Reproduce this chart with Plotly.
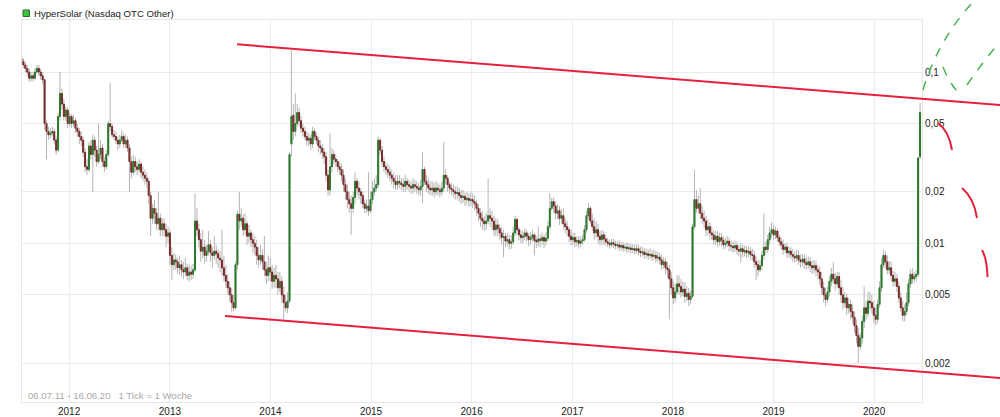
import plotly.graph_objects as go
import pandas as pd

# ---------------- data (weekly candles, HyperSolar, USD) ----------------
START = "2011-07-12"

CLOSE = [
    .115, .11, .105, .10, .092, .095, .092, .10, .105, .10, .095,
    .09, .05, .045,
    .043, .044, .045,
    .04, .035,
    .055, .075,
    .065, .055, .06, .05,
    .055, .05, .052, .047, .045, .042,
    .04, .034, .028, .027,
    .037, .033, .04, .035, .03, .033, .036, .03, .028, .033,
    .05, .048, .043,
    .042, .04, .038, .04, .042, .038, .04, .036,
    .03, .026, .03,
    .028, .027, .029, .026, .025, .024, .023,
    .019, .014, .016,
    .015, .013, .014, .012, .013, .012, .011, .0115,
    .0085, .0075, .008, .0078, .0072,
    .0075, .007, .0068, .0072, .0065, .0068, .0066, .007,
    .0135, .012,
    .0105, .009, .0095, .0085, .009, .0098, .0088, .0085, .009, .0087, .0082, .008,
    .0072, .0065, .006, .0055, .005, .0045, .0042,
    .0075, .0148,
    .0135, .014, .012, .013, .011, .0115, .0105,
    .01, .0095, .0085, .008, .0085,
    .0078, .007, .0065, .0072, .0068, .006, .0065,
    .0062, .0055, .006, .005, .0045, .0042, .0046,
    .033,
    .055,
    .045,
    .05, .058, .052, .047,
    .045, .042, .04, .041, .038, .045, .042, .04, .037, .036, .034, .032,
    .025, .0205,
    .028, .033, .031, .03, .028, .027,
    .025, .022, .02, .018, .017, .016, .0185,
    .023, .021, .02, .019,
    .017, .016, .0165, .0155,
    .018, .02, .021, .022,
    .04,
    .035, .03, .028, .027, .026, .025,
    .024, .023, .022, .023, .0225, .022, .0215, .023, .022, .0215, .021, .022, .0215, .021, .0205, .0215,
    .027, .023,
    .022, .021, .0205, .021, .02, .021, .0205, .02,
    .021, .025, .024, .022,
    .021, .0205, .02, .0195, .0198, .019, .0185, .0188, .018, .0183, .0178, .018,
    .0175, .017, .016, .015, .014, .0135, .013, .0135,
    .0145,
    .014, .0135, .012, .0128, .0122,
    .0115, .0108, .011, .0103, .0105, .01, .0102,
    .0115, .0138, .012,
    .0112, .0108, .011, .0115, .011, .0105, .0108, .0112, .0104, .0102, .0106, .0104, .0108, .0103, .0107,
    .0125, .016, .0175,
    .0165, .015, .0155, .014, .0145, .013, .0125, .012,
    .011, .0105, .0108, .0102, .0104, .01, .0103, .0105,
    .012, .0145, .016, .0135,
    .0125, .0115, .012, .011, .0105, .0112, .0106,
    .0102, .01, .0098, .0101, .0099, .0097, .0098, .0095, .0097, .0094, .0095, .0093, .0094, .0092, .0093,
    .0091, .0093, .009, .0088, .0089, .0086, .0087, .0085, .0086, .0084, .0085, .0082, .0083,
    .008, .0075, .0078, .0072, .007,
    .0062, .0055, .0048, .0052, .0058,
    .0056, .0052, .0054, .0049, .0051, .0047, .0049,
    .0125,
    .018, .016,
    .017, .015, .014, .0135, .012, .0125, .0115,
    .0112, .0105, .011, .0102, .0108, .0104, .0098, .01, .0103, .0097,
    .0096, .0094, .0097, .0092, .009, .0093, .0089, .0091, .0088, .009, .0086,
    .0085, .0078, .0075, .007, .0074,
    .0085, .0095, .0092,
    .0105, .0115, .012, .0112, .0118, .0108, .0102,
    .0098, .0092, .0095, .0088, .009,
    .0086, .0084, .0082, .0085, .008, .0078, .0081, .0077, .0075, .0078, .0074, .0072, .0074, .007, .0068,
    .0062, .0055, .005, .0047, .0052,
    .006, .0066, .0062, .0058, .0064,
    .0055, .005, .0045, .0048, .0042, .0044, .004,
    .0037, .0033, .0029, .0025, .0028,
    .0035, .0042, .0039, .0046,
    .0045, .0042, .0038, .0036, .0044,
    .0055, .0075, .0085,
    .0078, .007, .0072, .0065, .006, .0062, .0056,
    .0048, .0042, .0038, .004, .0045,
    .0058, .0066, .0062, .0064, .0066,
    .0315,
    .058,
]

OPEN = [
    .12, .115, .11, .105, .10, .092, .095, .092, .10, .105, .10,
    .095, .09, .05,
    .045, .043, .044,
    .045, .04,
    .035, .055,
    .075, .065, .055, .06,
    .05, .055, .05, .052, .047, .045,
    .042, .04, .034, .028,
    .027, .037, .033, .04, .035, .03, .033, .036, .03, .028,
    .033, .05, .048,
    .043, .042, .04, .038, .04, .042, .038, .04,
    .036, .03, .026,
    .03, .028, .027, .029, .026, .025, .024,
    .023, .019, .014,
    .016, .015, .013, .014, .012, .013, .012, .011,
    .0115, .0085, .0075, .008, .0078,
    .0072, .0075, .007, .0068, .0072, .0065, .0068, .0066,
    .007, .0135,
    .012, .0105, .009, .0095, .0085, .009, .0098, .0088, .0085, .009, .0087, .0082,
    .008, .0072, .0065, .006, .0055, .005, .0045,
    .0042, .0075,
    .0148, .0135, .014, .012, .013, .011, .0115,
    .0105, .01, .0095, .0085, .008,
    .0085, .0078, .007, .0065, .0072, .0068, .006,
    .0065, .0062, .0055, .006, .005, .0045, .0042,
    .0046,
    .038,
    .056,
    .045, .05, .058, .052,
    .047, .045, .042, .04, .041, .038, .045, .042, .04, .037, .036, .034,
    .032, .025,
    .0205, .028, .033, .031, .03, .028,
    .027, .025, .022, .02, .018, .017, .016,
    .0185, .023, .021, .02,
    .019, .017, .016, .0165,
    .0155, .018, .02, .021,
    .022,
    .04, .035, .03, .028, .027, .026,
    .025, .024, .023, .022, .023, .0225, .022, .0215, .023, .022, .0215, .021, .022, .0215, .021, .0205,
    .0215, .027,
    .023, .022, .021, .0205, .021, .02, .021, .0205,
    .02, .021, .025, .024,
    .022, .021, .0205, .02, .0195, .0198, .019, .0185, .0188, .018, .0183, .0178,
    .018, .0175, .017, .016, .015, .014, .0135, .013,
    .0135,
    .0145, .014, .0135, .012, .0128,
    .0122, .0115, .0108, .011, .0103, .0105, .01,
    .0102, .0115, .0138,
    .012, .0112, .0108, .011, .0115, .011, .0105, .0108, .0112, .0104, .0102, .0106, .0104, .0108, .0103,
    .0107, .0125, .016,
    .0175, .0165, .015, .0155, .014, .0145, .013, .0125,
    .012, .011, .0105, .0108, .0102, .0104, .01, .0103,
    .0105, .012, .0145, .016,
    .0135, .0125, .0115, .012, .011, .0105, .0112,
    .0106, .0102, .01, .0098, .0101, .0099, .0097, .0098, .0095, .0097, .0094, .0095, .0093, .0094, .0092,
    .0093, .0091, .0093, .009, .0088, .0089, .0086, .0087, .0085, .0086, .0084, .0085, .0082,
    .0083, .008, .0075, .0078, .0072,
    .007, .0062, .0055, .0048, .0052,
    .0058, .0056, .0052, .0054, .0049, .0051, .0047,
    .0049,
    .0125, .018,
    .016, .017, .015, .014, .0135, .012, .0125,
    .0115, .0112, .0105, .011, .0102, .0108, .0104, .0098, .01, .0103,
    .0097, .0096, .0094, .0097, .0092, .009, .0093, .0089, .0091, .0088, .009,
    .0086, .0085, .0078, .0075, .007,
    .0074, .0085, .0095,
    .0092, .0105, .0115, .012, .0112, .0118, .0108,
    .0102, .0098, .0092, .0095, .0088,
    .009, .0086, .0084, .0082, .0085, .008, .0078, .0081, .0077, .0075, .0078, .0074, .0072, .0074, .007,
    .0068, .0062, .0055, .005, .0047,
    .0052, .006, .0066, .0062, .0058,
    .0064, .0055, .005, .0045, .0048, .0042, .0044,
    .004, .0037, .0033, .0029, .0025,
    .0028, .0035, .0042, .0039,
    .0046, .0045, .0042, .0038, .0036,
    .0044, .0055, .0075,
    .0085, .0078, .007, .0072, .0065, .006, .0062,
    .0056, .0048, .0042, .0038, .004,
    .0045, .0058, .0066, .0062, .0064,
    .0066,
    .032,
]

HIGH = [
    .125, .12, .115, .11, .105, .10, .10, .105, .11, .11, .105,
    .10, .092, .052,
    .048, .047, .048,
    .047, .042,
    .058, .10,
    .08, .07, .063, .062,
    .058, .057, .056, .054, .05, .047,
    .045, .042, .036, .031,
    .039, .04, .043, .042, .037, .05, .04, .038, .032, .035,
    .052, .086, .05,
    .046, .045, .042, .043, .046, .044, .043, .042,
    .038, .032, .033,
    .032, .03, .031, .03, .028, .027, .026,
    .024, .02, .017,
    .018, .016, .02, .015, .014, .014, .013, .0125,
    .012, .0095, .0088, .0086, .0082,
    .0085, .008, .0078, .0082, .0076, .0075, .0074, .0076,
    .0196, .016,
    .013, .0115, .012, .0105, .0098, .0118, .0105, .0095, .011, .0098, .0092, .009,
    .012, .0085, .0075, .0066, .006, .0055, .005,
    .0078, .0155,
    .02, .016, .0148, .015, .0135, .0128, .012,
    .0115, .011, .0105, .0095, .0098,
    .0092, .011, .0078, .0085, .0082, .0075, .0072,
    .0075, .0068, .0068, .0064, .0056, .005, .0052,
    .034,
    .134,
    .065,
    .075, .065, .062, .055,
    .05, .048, .045, .044, .043, .048, .047, .044, .042, .04, .038, .036,
    .034, .027,
    .044, .036, .035, .033, .031, .03,
    .029, .027, .024, .022, .02, .019, .02,
    .026, .024, .023, .021,
    .02, .018, .018, .026,
    .02, .023, .024, .025,
    .042,
    .041, .037, .032, .03, .029, .028,
    .027, .026, .025, .025, .025, .024, .024, .025, .024, .0235, .023, .024, .0235, .023, .0225, .0235,
    .034, .028,
    .025, .024, .023, .023, .0225, .023, .0225, .022,
    .023, .039, .027, .025,
    .023, .0225, .022, .0215, .0215, .021, .0205, .0205, .0198, .02, .0195, .0198,
    .0195, .019, .018, .017, .016, .0155, .0145, .015,
    .024,
    .016, .0155, .0145, .014, .0138,
    .013, .0125, .012, .0115, .0115, .0112, .0112,
    .0125, .0145, .014,
    .0125, .012, .0118, .0122, .012, .0115, .0116, .012, .0115, .011, .0125, .0112, .0116, .0112, .0116,
    .0135, .0196, .0185,
    .0185, .0175, .017, .0165, .0158, .016, .014, .0135,
    .0125, .012, .0115, .0115, .011, .011, .011, .0112,
    .0128, .0155, .0172, .0165,
    .015, .014, .0135, .013, .0118, .012, .0118,
    .0112, .0108, .0105, .0106, .0106, .0104, .0103, .0104, .0102, .0102, .01, .0101, .01, .0099, .0099,
    .0098, .0099, .0098, .0096, .0095, .0094, .0093, .0092, .0093, .0091, .0092, .009, .0089,
    .0088, .0086, .0083, .0082, .0078,
    .0075, .0068, .006, .0058, .0065,
    .0065, .0062, .006, .0059, .0056, .0055, .0053,
    .013,
    .0268, .0205,
    .019, .021, .0165, .0155, .0145, .0138, .0132,
    .0125, .012, .0118, .0118, .0115, .0115, .011, .0108, .011, .0108,
    .0103, .0102, .0104, .0102, .0098, .01, .0098, .0097, .0096, .0096, .0095,
    .0093, .0091, .0084, .008, .008,
    .009, .0149, .0102,
    .0112, .0125, .0133, .0128, .0125, .0122, .0112,
    .0108, .0105, .01, .0101, .0096,
    .0095, .0093, .009, .0092, .0091, .0086, .0087, .0086, .0083, .0084, .0083, .0079, .008, .0079, .0075,
    .0073, .0068, .006, .0055, .0056,
    .0064, .0072, .0078, .0067, .0068,
    .0068, .0061, .0056, .0052, .0051, .0048, .0047,
    .0044, .004, .0036, .0032, .003,
    .0038, .0056, .0046, .0052,
    .0052, .005, .0046, .0042, .0047,
    .006, .0082, .0092,
    .009, .0085, .0079, .0078, .0069, .0068, .0066,
    .006, .0052, .0046, .0044, .0052,
    .0062, .007, .0072, .0068, .007,
    .032,
    .066,
]

LOW = [
    .11, .105, .10, .095, .088, .088, .088, .09, .098, .095, .09,
    .085, .046, .031,
    .04, .041, .042,
    .038, .033,
    .034, .052,
    .06, .052, .052, .047,
    .048, .047, .048, .044, .042, .038,
    .037, .032, .026, .025,
    .026, .031, .02, .032, .028, .029, .031, .028, .026, .027,
    .032, .045, .041,
    .04, .038, .035, .036, .039, .036, .036, .034,
    .02, .024, .025,
    .026, .025, .026, .024, .023, .022, .021,
    .017, .011, .013,
    .013, .012, .012, .011, .011, .011, .0095, .01,
    .0075, .0061, .007, .007, .0066,
    .0066, .0064, .0062, .0064, .0061, .006, .0061, .0062,
    .0068, .011,
    .0095, .0078, .0082, .0076, .0078, .0085, .0078, .0072, .008, .0076, .0072, .0068,
    .0065, .006, .0055, .005, .0046, .004, .004,
    .0041, .007,
    .012, .0125, .011, .0112, .0098, .01, .0095,
    .0088, .0085, .0075, .0072, .0075,
    .007, .0064, .0058, .006, .006, .0054, .0055,
    .0055, .005, .0052, .0045, .0036, .004, .0039,
    .0045,
    .032,
    .04,
    .042, .048, .048, .044,
    .042, .04, .037, .037, .035, .036, .04, .038, .034, .033, .031, .029,
    .023, .019,
    .019, .026, .029, .028, .026, .025,
    .023, .02, .018, .016, .015, .0112, .015,
    .017, .019, .018, .017,
    .016, .015, .015, .0145,
    .015, .017, .019, .02,
    .021,
    .033, .028, .026, .025, .024, .023,
    .022, .021, .0205, .0205, .021, .0205, .02, .02, .0205, .02, .0195, .0195, .02, .0195, .019, .019,
    .0171, .022,
    .02, .0195, .019, .019, .0185, .019, .019, .0185,
    .019, .02, .022, .02,
    .0195, .019, .0185, .018, .018, .0175, .017, .0172, .0165, .0168, .0163, .0165,
    .016, .0155, .0145, .0135, .0125, .012, .0118, .012,
    .013,
    .0125, .012, .011, .011, .011,
    .0105, .0098, .0083, .0095, .0096, .0092, .0093,
    .0098, .011, .0112,
    .0104, .01, .01, .0104, .0102, .0096, .0098, .0102, .0085, .0094, .0096, .0095, .0098, .0094, .0097,
    .0103, .012, .0155,
    .015, .0138, .0138, .0128, .013, .012, .0115, .011,
    .0102, .0097, .0098, .0095, .0096, .0093, .0095, .0098,
    .0102, .0115, .0138, .013,
    .0118, .0105, .0108, .01, .0097, .0098, .0098,
    .0097, .0095, .0093, .0095, .0094, .0092, .0093, .009, .0091, .0089, .009, .0088, .0089, .0087, .0088,
    .0086, .0087, .0085, .0083, .0084, .0081, .0082, .008, .0081, .0079, .008, .0077, .0078,
    .0075, .007, .0071, .0066, .0063,
    .0036, .005, .0044, .0045, .005,
    .005, .0048, .0049, .0045, .0046, .0043, .0044,
    .0048,
    .012, .015,
    .015, .0138, .013, .0122, .011, .0112, .0105,
    .0104, .0098, .0098, .0095, .0097, .0096, .0092, .0093, .0095, .009,
    .009, .0088, .0089, .0086, .0084, .0077, .0083, .0084, .0082, .0083, .008,
    .0079, .0072, .0061, .0064, .0068,
    .007, .008, .0086,
    .0088, .0098, .0108, .0105, .0106, .0102, .0096,
    .0092, .0086, .0088, .0082, .0083,
    .0081, .0078, .0077, .0078, .0075, .0072, .0073, .0071, .007, .0071, .0068, .0066, .0067, .0064, .0062,
    .0057, .005, .0045, .0043, .0045,
    .0049, .0056, .0058, .0053, .0055,
    .005, .0045, .0041, .0042, .0038, .0039, .0036,
    .0034, .003, .0026, .002, .0024,
    .0026, .0032, .0036, .0037,
    .0041, .0039, .0034, .0033, .0034,
    .0042, .0052, .0072,
    .0072, .0066, .0066, .006, .0056, .0056, .0052,
    .0045, .004, .0035, .0035, .0038,
    .0043, .0055, .0058, .0059, .006,
    .0064,
    .031,
]

YEARS = [2012, 2013, 2014, 2015, 2016, 2017, 2018, 2019, 2020]
Y_TICKS = [0.002, 0.005, 0.01, 0.02, 0.05, 0.1]
Y_LABELS = ["0,002", "0,005", "0,01", "0,02", "0,05", "0,1"]

TITLE = "HyperSolar (Nasdaq OTC Other)"
FOOTER = "06.07.11 - 16.06.20&nbsp;&nbsp;&nbsp;1 Tick = 1 Woche"

# ---------------- figure ----------------
W, H = 1000, 417
ML, MR, MT, MB = 22, 78, 20, 15

dates = pd.date_range(START, periods=len(CLOSE), freq="7D")
wick_hi = [max(h, o, c) for h, o, c in zip(HIGH, OPEN, CLOSE)]
wick_lo = [min(l, o, c) for l, o, c in zip(LOW, OPEN, CLOSE)]
body_hi = [max(o, c) for o, c in zip(OPEN, CLOSE)]
body_lo = [min(o, c) for o, c in zip(OPEN, CLOSE)]

GREEN = "#2b7a2b"
RED = "#7d2b2b"
WICK = "#b4b4b4"

fig = go.Figure()
fig.add_trace(go.Candlestick(
    x=dates, open=OPEN, high=wick_hi, low=wick_lo, close=CLOSE,
    increasing=dict(line=dict(color=WICK, width=1), fillcolor=WICK),
    decreasing=dict(line=dict(color=WICK, width=1), fillcolor=WICK),
    hoverinfo="skip", showlegend=False,
))
fig.add_trace(go.Candlestick(
    x=dates, open=OPEN, high=body_hi, low=body_lo, close=CLOSE,
    increasing=dict(line=dict(color=GREEN, width=1), fillcolor=GREEN),
    decreasing=dict(line=dict(color=RED, width=1), fillcolor=RED),
    showlegend=False,
))

PW, PH = W - ML - MR, H - MT - MB


def px(x, y):
    """pixel position on the page -> paper coordinates (for overlay drawings)"""
    return (x - ML) / PW, (H - MB - y) / PH


def path(points, cmd="Q"):
    p = [px(*pt) for pt in points]
    s = "M %.5f %.5f " % p[0]
    s += cmd + " " + " ".join("%.5f %.5f" % q for q in p[1:])
    return s


shapes = []
RL = "#e4213d"
# channel trend lines
for a, b in [((237, 44.3), (1000, 105)), ((225, 316), (1000, 378))]:
    x0, y0 = px(*a)
    x1, y1 = px(*b)
    shapes.append(dict(type="line", xref="paper", yref="paper", x0=x0, y0=y0,
                       x1=x1, y1=y1, line=dict(color=RL, width=2)))
# red hand-drawn arcs
for pts in [[(938, 123), (949, 131), (952, 150)],
            [(962, 188), (974, 198), (977, 218)],
            [(982, 250), (987, 259), (987.5, 277)]]:
    shapes.append(dict(type="path", xref="paper", yref="paper", path=path(pts),
                       line=dict(color=RL, width=2)))
# green dashed hand-drawn arcs
GL = "#46b450"
for pts in [[(923, 90), (938, 40), (973, 2)],
            [(943, 67), (949, 82), (957, 91)],
            [(967, 85), (984, 60), (1000, 42)]]:
    shapes.append(dict(type="path", xref="paper", yref="paper", path=path(pts),
                       line=dict(color=GL, width=1.5, dash="dash")))
# legend square
sx0, sy0 = px(23, 16.5)
sx1, sy1 = px(29.5, 10)
shapes.append(dict(type="rect", xref="paper", yref="paper", x0=sx0, y0=sy0, x1=sx1, y1=sy1,
                   fillcolor="#3ec43e", line=dict(color="#2a6a2a", width=1)))

tx, ty = px(32, 13.5)
fx, fy = px(26, 395)
annotations = [
    dict(text=TITLE, xref="paper", yref="paper", x=tx, y=ty, xanchor="left", yanchor="middle",
         showarrow=False, font=dict(size=9.6, color="#222222")),
    dict(text=FOOTER, xref="paper", yref="paper", x=fx, y=fy, xanchor="left", yanchor="middle",
         showarrow=False, font=dict(size=9.6, color="#a8a8a8")),
]

fig.update_layout(
    width=W, height=H, autosize=False,
    margin=dict(l=ML, r=MR, t=MT, b=MB, pad=0),
    paper_bgcolor="white", plot_bgcolor="white",
    font=dict(family="Liberation Sans, Arial, sans-serif", size=10, color="#222222"),
    showlegend=False, hovermode=False,
    shapes=shapes, annotations=annotations,
    boxgap=0.3,
)
fig.update_xaxes(
    type="date", range=["2011-07-14", "2020-06-23"],
    tickvals=[f"{y}-01-01" for y in YEARS], ticktext=[str(y) for y in YEARS],
    showgrid=True, gridcolor="#ebebeb", gridwidth=1, zeroline=False,
    showline=True, linecolor="#e6e6e6", mirror=True, ticks="",
    rangeslider=dict(visible=False), automargin=False,
    tickfont=dict(size=10, color="#222222"),
)
fig.update_yaxes(
    type="log", range=[-2.9264, -0.6964], side="right",
    tickvals=Y_TICKS, ticktext=Y_LABELS,
    showgrid=True, gridcolor="#ebebeb", gridwidth=1, zeroline=False,
    showline=True, linecolor="#e6e6e6", mirror=True, ticks="",
    automargin=False, tickfont=dict(size=10, color="#222222"),
)

fig.write_html(
    "out.html",
    config={"displayModeBar": False},
    post_script="document.body.style.margin='0';document.body.style.overflow='hidden';",
)
